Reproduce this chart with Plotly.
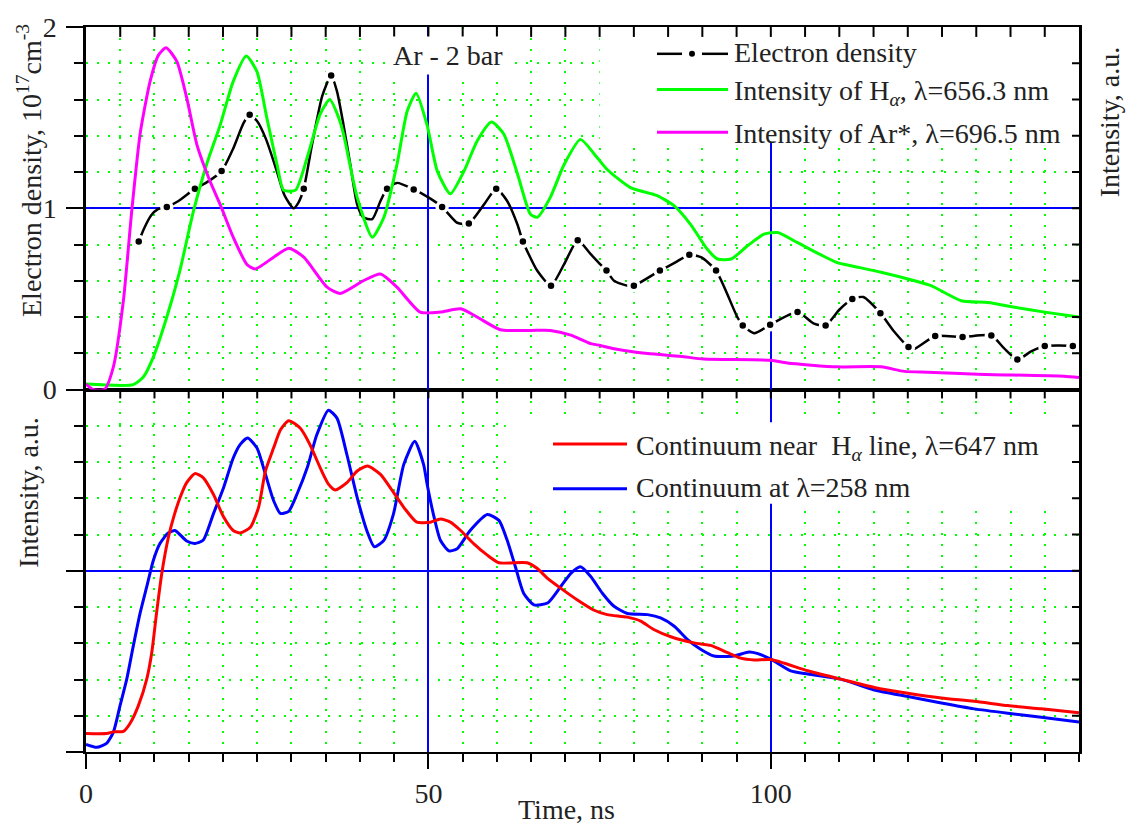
import plotly.graph_objects as go

# ---------------- data ----------------
# Electron density (10^17 cm^-3): measured points and the smoothed curve through them
t_ne = [7.7, 11.8, 15.9, 19.8, 23.9, 31.8, 35.8, 43.96, 47.85, 52.0, 55.9, 59.9, 63.8,
        67.9, 71.8, 76.0, 80.0, 83.8, 88.1, 92.0, 95.9, 99.9, 103.9, 108.0, 111.9,
        116.0, 120.1, 124.0, 128.0, 132.2, 136.0, 140.0, 144.1]
ne = [0.817, 1.007, 1.108, 1.205, 1.516, 1.108, 1.733, 1.108, 1.104, 1.007, 0.916, 1.108,
      0.817, 0.573, 0.824, 0.656, 0.573, 0.656, 0.743, 0.656, 0.353, 0.357, 0.427, 0.353,
      0.50, 0.421, 0.235, 0.295, 0.29, 0.298, 0.165, 0.24, 0.24]

t_ne_curve = [7.7, 8.5, 9.5, 10.5, 11.8, 13.5, 15.9, 17.5, 19.8, 21.5, 23.0, 23.9, 25.0,
              26.3, 27.9, 29.0, 30.3, 31.0, 31.8, 33.0, 34.5, 35.8, 36.65, 37.6, 38.6,
              39.6, 40.5, 41.8, 43.0, 43.96, 45.4, 47.85, 50.0, 52.0, 54.2, 55.9, 58.1,
              59.9, 61.5, 63.0, 63.8, 65.9, 67.9, 69.8, 71.8, 73.7, 75.1, 76.0, 77.1,
              79.0, 80.0, 83.8, 86.0, 88.1, 89.8, 92.0, 95.1, 95.9, 97.6, 99.9, 103.9,
              106.3, 108.0, 110.0, 111.9, 113.5, 116.0, 118.0, 120.1, 121.0, 124.0,
              128.0, 132.2, 134.0, 136.0, 138.0, 140.0, 144.1, 145.0]
ne_curve = [0.817, 0.89, 0.96, 0.995, 1.007, 1.04, 1.108, 1.14, 1.205, 1.33, 1.47, 1.516,
            1.48, 1.38, 1.20, 1.07, 1.00, 1.03, 1.108, 1.35, 1.62, 1.733, 1.645, 1.46,
            1.24, 1.02, 0.95, 0.94, 1.04, 1.108, 1.14, 1.104, 1.06, 1.007, 0.92, 0.916,
            1.02, 1.108, 1.04, 0.91, 0.817, 0.655, 0.573, 0.69, 0.824, 0.747, 0.69,
            0.656, 0.60, 0.573, 0.573, 0.656, 0.70, 0.743, 0.73, 0.656, 0.40, 0.353,
            0.311, 0.357, 0.427, 0.363, 0.353, 0.44, 0.50, 0.51, 0.421, 0.32, 0.235,
            0.225, 0.295, 0.29, 0.298, 0.23, 0.165, 0.21, 0.24, 0.24, 0.23]

# Intensity of H-alpha, 656.3 nm (a.u.)
t_ha = [0, 6.9, 8.4, 9.84, 11.8, 13.7, 15.7, 17.6, 19.6, 21.5, 23.4, 24.95, 26.4, 27.9,
        28.85, 30.6, 32.3, 34.2, 35.6, 36.9, 37.6, 39.6, 41.8, 43.5, 45.4, 46.9, 48.2,
        49.8, 51.3, 53.2, 55.2, 57.1, 59.2, 61.0, 63.0, 64.9, 65.9, 67.8, 69.8, 72.2,
        74.2, 76.1, 79.5, 83.4, 85.9, 88.3, 90.7, 92.2, 94.2, 96.6, 99.0, 101.0, 103.9,
        107.3, 109.7, 111.7, 116.1, 121.0, 123.4, 127.8, 131.7, 135.6, 140.0, 145.0]
i_ha = [0.03, 0.027, 0.07, 0.18, 0.40, 0.655, 0.985, 1.24, 1.46, 1.70, 1.84, 1.755, 1.50,
        1.24, 1.10, 1.10, 1.28, 1.52, 1.60, 1.50, 1.41, 1.06, 0.84, 0.95, 1.24, 1.535,
        1.635, 1.46, 1.205, 1.08, 1.205, 1.37, 1.476, 1.41, 1.19, 0.967, 0.95, 1.06,
        1.24, 1.38, 1.30, 1.214, 1.114, 1.07, 1.013, 0.91, 0.775, 0.72, 0.72, 0.793,
        0.857, 0.866, 0.81, 0.743, 0.70, 0.683, 0.647, 0.60, 0.573, 0.49, 0.48, 0.454,
        0.427, 0.40]

# Intensity of Ar*, 696.5 nm (a.u.)
t_ar = [0, 1.0, 2.7, 4.0, 5.46, 6.68, 7.9, 9.36, 10.6, 11.7, 13.26, 14.7, 16.2, 18.1,
        19.6, 21.5, 23.5, 24.7, 27.4, 29.6, 31.8, 35.2, 37.1, 40.5, 43.0, 45.4, 48.8,
        51.75, 54.7, 57.1, 60.5, 64.9, 67.8, 70.8, 73.7, 75.1, 77.1, 82.0, 86.8, 90.2,
        100.0, 102.4, 109.7, 116.1, 119.5, 122.9, 130.2, 142.8, 145.0]
i_ar = [0.03, 0.0, 0.0, 0.125, 0.49, 0.985, 1.41, 1.70, 1.846, 1.886, 1.81, 1.61, 1.35,
        1.15, 1.02, 0.84, 0.69, 0.665, 0.73, 0.78, 0.73, 0.565, 0.53, 0.60, 0.637, 0.565,
        0.427, 0.427, 0.445, 0.40, 0.33, 0.326, 0.326, 0.30, 0.253, 0.243, 0.225, 0.198,
        0.183, 0.168, 0.161, 0.146, 0.125, 0.125, 0.10, 0.095, 0.084, 0.073, 0.066]

# Continuum near H-alpha line, 647 nm (a.u.)
t_c647 = [0, 3.0, 4.0, 5.46, 6.4, 7.65, 8.87, 9.6, 10.3, 11.07, 12.04, 12.8, 13.74, 14.7,
          15.9, 17.1, 18.6, 20.1, 21.5, 22.5, 24.0, 25.2, 26.2, 27.4, 28.4, 29.6, 31.3,
          32.7, 34.2, 35.4, 36.4, 38.1, 39.6, 41.1, 43.0, 44.4, 46.4, 48.3, 50.3, 51.75,
          53.2, 54.7, 56.6, 58.6, 60.3, 64.4, 65.9, 67.4, 69.3, 71.7, 74.2, 76.1, 79.05,
          81.0, 82.9, 85.4, 88.8, 91.2, 93.7, 95.6, 97.6, 100.0, 105.4, 110.2, 115.1,
          120.0, 124.9, 129.7, 134.6, 139.5, 145.0]
i_c647 = [0.51, 0.51, 0.555, 0.57, 0.78, 1.28, 2.01, 2.74, 3.83, 4.93, 5.93, 6.48, 7.02,
          7.43, 7.68, 7.57, 7.11, 6.48, 6.11, 6.04, 6.2, 6.75, 7.75, 8.39, 8.89, 9.14,
          8.93, 8.48, 7.84, 7.39, 7.23, 7.43, 7.75, 7.89, 7.66, 7.30, 6.75, 6.34, 6.34,
          6.43, 6.34, 6.11, 5.75, 5.43, 5.22, 5.22, 5.06, 4.79, 4.52, 4.2, 3.91, 3.79,
          3.72, 3.61, 3.38, 3.18, 3.01, 2.94, 2.74, 2.59, 2.54, 2.55, 2.24, 2.01, 1.78,
          1.62, 1.49, 1.40, 1.28, 1.19, 1.08]

# Continuum at 258 nm (a.u.)
t_c258 = [0, 1.56, 3.0, 4.0, 4.97, 5.95, 6.9, 7.9, 8.87, 9.84, 10.8, 12.0, 13.0, 14.7,
          15.9, 17.1, 18.6, 20.1, 21.5, 22.5, 23.6, 24.95, 26.2, 27.4, 28.4, 29.6, 30.8,
          32.3, 33.7, 35.4, 36.65, 38.1, 39.6, 41.0, 42.1, 43.5, 44.9, 46.4, 48.0, 49.3,
          49.8, 50.8, 51.75, 53.0, 54.2, 56.1, 58.6, 60.3, 61.5, 62.7, 63.9, 65.4, 67.4,
          69.3, 70.8, 72.2, 73.7, 75.4, 77.1, 79.05, 82.0, 83.9, 85.9, 87.8, 89.8, 91.7,
          94.6, 96.8, 98.0, 100.0, 102.9, 105.4, 110.2, 115.1, 120.0, 124.9, 129.7,
          134.6, 139.5, 145.0]
i_c258 = [0.21, 0.13, 0.24, 0.55, 1.28, 2.01, 2.92, 3.83, 4.56, 5.29, 5.75, 6.04, 6.11,
          5.82, 5.75, 5.84, 6.57, 7.30, 8.11, 8.48, 8.66, 8.39, 7.66, 6.93, 6.58, 6.64,
          7.11, 7.84, 8.75, 9.43, 9.21, 8.20, 7.02, 6.11, 5.66, 5.84, 6.57, 7.93, 8.57,
          7.93, 7.4, 6.5, 5.84, 5.55, 5.61, 6.11, 6.55, 6.39, 5.84, 5.11, 4.38, 4.06,
          4.11, 4.56, 4.93, 5.11, 4.84, 4.38, 4.02, 3.82, 3.79, 3.70, 3.47, 3.11, 2.83,
          2.65, 2.65, 2.76, 2.72, 2.56, 2.24, 2.15, 2.01, 1.71, 1.53, 1.35, 1.19, 1.07,
          0.96, 0.83]

x_ticks = [0, 50, 100]
ne_ticks = [0, 1, 2]

# ---------------- styling ----------------
SERIF = "Liberation Serif"
FS = 28
TXT = "#222222"
GREEN = "#00ff00"
MAGENTA = "#ff00ff"
RED = "#ff0000"
BLUE = "#0000ff"

W, H = 1132, 826
ML, MR, MT, MB = 86, 53, 22, 74
PW, PH = W - ML - MR, H - MT - MB
PANEL_H = PH / 2

T_MAX = 145
T_MINOR = 5
NE_MAX, NE_MINOR = 2, 0.2
CONT_MAX, CONT_MINOR = 10, 1


def px(x):
    return (x - ML) / PW


def py(y):
    return (H - MB - y) / PH


fig = go.Figure()

# top panel
fig.add_trace(go.Scatter(x=t_ne_curve, y=ne_curve, mode="lines", xaxis="x2", yaxis="y",
                         line=dict(color="black", width=2.5, shape="spline", smoothing=0.6),
                         hoverinfo="skip"))
fig.add_trace(go.Scatter(x=t_ne, y=ne, mode="markers", xaxis="x2", yaxis="y",
                         marker=dict(color="black", size=10, line=dict(color="white", width=3.5)),
                         name="Electron density"))
fig.add_trace(go.Scatter(x=t_ha, y=i_ha, mode="lines", xaxis="x2", yaxis="y",
                         line=dict(color=GREEN, width=3, shape="spline", smoothing=0.6),
                         name="Intensity of H-alpha"))
fig.add_trace(go.Scatter(x=t_ar, y=i_ar, mode="lines", xaxis="x2", yaxis="y",
                         line=dict(color=MAGENTA, width=3, shape="spline", smoothing=0.6),
                         name="Intensity of Ar*"))

# bottom panel
fig.add_trace(go.Scatter(x=t_c258, y=i_c258, mode="lines", xaxis="x", yaxis="y2",
                         line=dict(color=BLUE, width=3, shape="spline", smoothing=0.6),
                         name="Continuum 258 nm"))
fig.add_trace(go.Scatter(x=t_c647, y=i_c647, mode="lines", xaxis="x", yaxis="y2",
                         line=dict(color=RED, width=3, shape="spline", smoothing=0.6),
                         name="Continuum 647 nm"))

minor_grid = dict(showgrid=True, gridcolor=GREEN, griddash="2px,9px", gridwidth=2)
tick_common = dict(tickwidth=2, tickcolor="black", zeroline=False)
tfont = dict(family=SERIF, size=FS, color=TXT)

fig.update_layout(
    width=W, height=H, autosize=False,
    margin=dict(l=ML, r=MR, t=MT, b=MB),
    plot_bgcolor="white", paper_bgcolor="white",
    showlegend=False,
    font=dict(family=SERIF, size=FS, color=TXT),
    # bottom panel time axis
    xaxis=dict(domain=[0, 1], anchor="y2", range=[0, T_MAX], tickmode="array",
               tickvals=x_ticks, ticktext=[str(v) for v in x_ticks],
               ticks="outside", ticklen=15, showline=True, mirror=True,
               linecolor="black", linewidth=2,
               showgrid=True, gridcolor=BLUE, gridwidth=1.5, tickfont=tfont,
               minor=dict(dtick=T_MINOR, tick0=0, ticks="outside", ticklen=8, tickwidth=2,
                          tickcolor="black", **minor_grid),
               **tick_common),
    # top panel time axis (no labels)
    xaxis2=dict(domain=[0, 1], anchor="y", range=[0, T_MAX], tickmode="array",
                tickvals=x_ticks, showticklabels=False, ticks="",
                showline=True, mirror=True, linecolor="black", linewidth=2,
                showgrid=True, gridcolor=BLUE, gridwidth=1.5,
                minor=dict(dtick=T_MINOR, tick0=0, ticks="", **minor_grid),
                zeroline=False),
    # electron density axis
    yaxis=dict(domain=[0.5, 1], anchor="x2", range=[0, NE_MAX], tickmode="array",
               tickvals=ne_ticks, ticktext=[str(v) for v in ne_ticks],
               ticks="outside", ticklen=17, showline=True, mirror=True,
               linecolor="black", linewidth=2.5,
               showgrid=True, gridcolor=BLUE, gridwidth=1.5, tickfont=tfont,
               ticklabelstandoff=4,
               minor=dict(dtick=NE_MINOR, tick0=0, ticks="outside", ticklen=9, tickwidth=2,
                          tickcolor="black", **minor_grid),
               **tick_common),
    # continuum intensity axis
    yaxis2=dict(domain=[0, 0.5], anchor="x", range=[0, CONT_MAX], tickmode="array",
                tickvals=[0, CONT_MAX / 2, CONT_MAX], showticklabels=False,
                ticks="outside", ticklen=17, showline=True, mirror=True,
                linecolor="black", linewidth=2.5,
                showgrid=True, gridcolor=BLUE, gridwidth=1.5,
                minor=dict(dtick=CONT_MINOR, tick0=0, ticks="outside", ticklen=9, tickwidth=2,
                           tickcolor="black", **minor_grid),
                **tick_common),
)

shapes = []
# white backgrounds behind the two key blocks (above grid, under curves)
shapes.append(dict(type="rect", xref="x2", yref="y", x0=75, x1=T_MAX, y0=1.36, y1=NE_MAX,
                   fillcolor="white", line=dict(width=0), layer="between"))
shapes.append(dict(type="rect", xref="x", yref="y2", x0=61.3, x1=T_MAX, y0=6.85, y1=9.1,
                   fillcolor="white", line=dict(width=0), layer="between"))

# inward tick marks on the top and right edges of each panel
tick_line = dict(color="black", width=2)
n_t = int(round(T_MAX / T_MINOR))
for k in range(1, n_t):
    t = k * T_MINOR
    shapes.append(dict(type="line", xref="x2", yref="y domain", x0=t, x1=t,
                       y0=1, y1=1 - 10 / PANEL_H, line=tick_line))
    shapes.append(dict(type="line", xref="x", yref="y2 domain", x0=t, x1=t,
                       y0=1, y1=1 - 9 / PANEL_H, line=tick_line))
for k in range(1, int(round(NE_MAX / NE_MINOR))):
    v = k * NE_MINOR
    shapes.append(dict(type="line", xref="x2 domain", yref="y", x0=1, x1=1 - 7 / PW,
                       y0=v, y1=v, line=tick_line))
for k in range(1, int(round(CONT_MAX / CONT_MINOR))):
    v = k * CONT_MINOR
    shapes.append(dict(type="line", xref="x domain", yref="y2", x0=1, x1=1 - 7 / PW,
                       y0=v, y1=v, line=tick_line))


# key swatches
def seg(x0, x1, y, color, width=3):
    return dict(type="line", xref="paper", yref="paper", x0=px(x0), x1=px(x1),
                y0=py(y), y1=py(y), line=dict(color=color, width=width), layer="above")


shapes.append(seg(657, 682, 49, "black", 2.5))
shapes.append(seg(702, 728, 49, "black", 2.5))
shapes.append(dict(type="circle", xref="paper", yref="paper", x0=px(689), x1=px(695),
                   y0=py(52), y1=py(46), fillcolor="black", line=dict(width=0)))
shapes.append(seg(657, 728, 85, GREEN))
shapes.append(seg(657, 728, 128, MAGENTA))
shapes.append(seg(553, 627, 442, RED))
shapes.append(seg(553, 627, 487, BLUE))

fig.update_layout(shapes=shapes)

annotations = []


def label(text, x, y, xanchor="left", angle=0, bg=None):
    d = dict(text=text, xref="paper", yref="paper", x=px(x), y=py(y), xanchor=xanchor,
             yanchor="middle", showarrow=False, textangle=angle,
             font=dict(family=SERIF, size=FS, color=TXT))
    if bg:
        d.update(bgcolor=bg, borderpad=3)
    return d


annotations.append(label("Electron density", 732, 48))
annotations.append(label("Intensity of H<sub><i>α</i></sub>, λ=656.3 nm", 732, 88))
annotations.append(label("Intensity of Ar*, λ=696.5 nm", 732, 129))
annotations.append(label("Continuum near  H<sub><i>α</i></sub> line, λ=647 nm", 634, 445))
annotations.append(label("Continuum at λ=258 nm", 634, 486))
annotations.append(label("Ar - 2 bar", 448, 51, xanchor="center", bg="white"))
annotations.append(label("Time, ns", 566, 810, xanchor="center"))
annotations.append(label("Electron density, 10<sup>17</sup>cm<sup>-3</sup>", 29, 167,
                         xanchor="center", angle=-90))
annotations.append(label("Intensity, a.u.", 29, 491, xanchor="center", angle=-90))
annotations.append(label("Intensity, a.u.", 1109, 118, xanchor="center", angle=-90))

fig.update_layout(annotations=annotations)

fig.write_html("out.html")
